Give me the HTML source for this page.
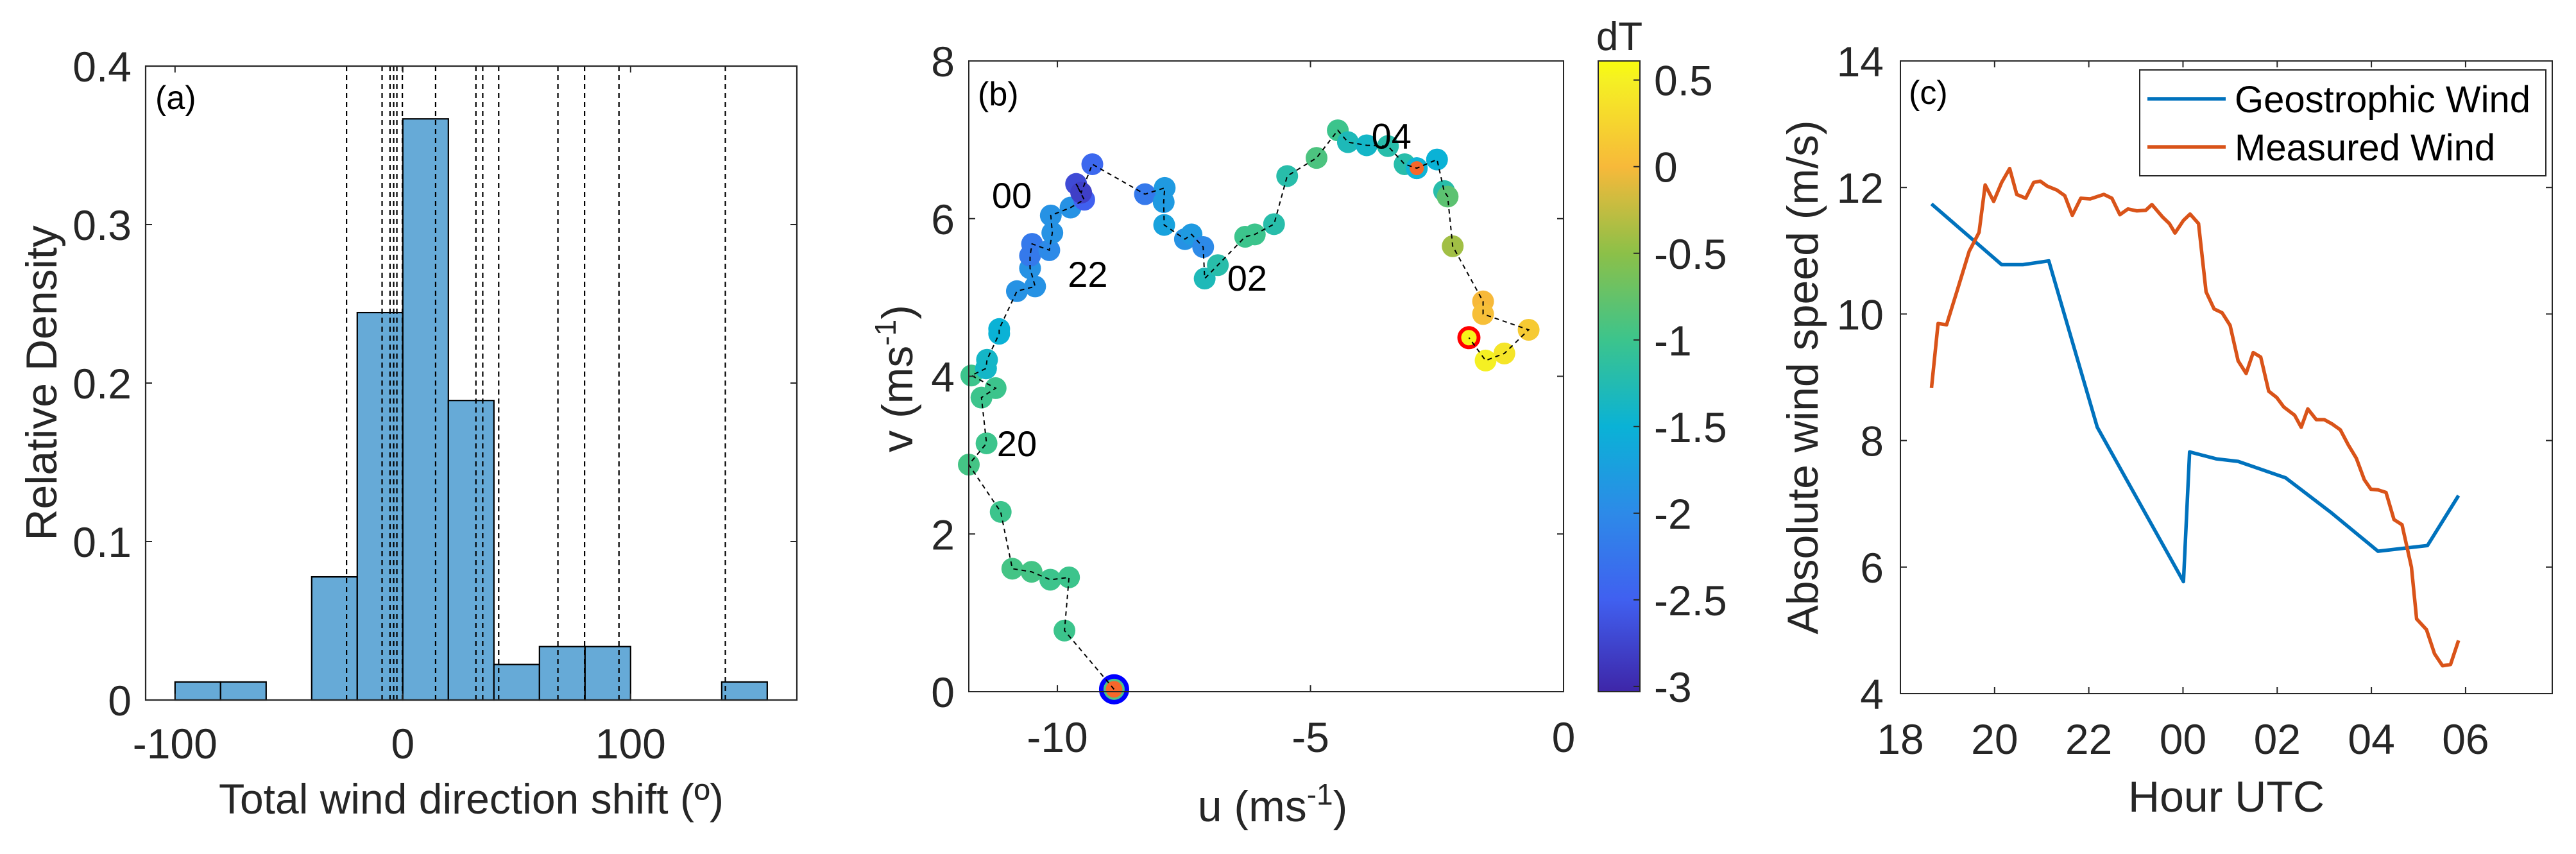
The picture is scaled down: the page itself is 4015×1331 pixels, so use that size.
<!DOCTYPE html>
<html><head><meta charset="utf-8">
<style>
html,body{margin:0;padding:0;background:#fff;}
svg{display:block;font-family:"Liberation Sans",Arial,sans-serif;}
</style></head>
<body>
<svg id="fig" width="4015" height="1331" viewBox="0 0 4015 1331" xmlns="http://www.w3.org/2000/svg">
<rect x="0" y="0" width="4015" height="1331" fill="#fff"/>
<g id="pa"></g>
<g id="pb"></g>
<g id="pc"></g>
</svg>
<script>
// ---------- Panel (a) data ----------
const histBinStart = [-100,-80,-40,-20,0,20,40,60,80,140];
const histDensity = [0.0114,0.0114,0.0777,0.2445,0.3667,0.189,0.0224,0.0337,0.0337,0.0114];
const histBinWidth = 20;
const shiftLines = [-24.7,-9.1,-5.6,-4.0,-2.6,-0.2,14.4,32.1,35.1,42.1,68.1,79.8,94.9,141.6];
const aXTicks = [-100,0,100];
const aYTicks = [0,0.1,0.2,0.3,0.4];
const aYTickLabels = ["0","0.1","0.2","0.3","0.4"];

// ---------- Panel (b) data ----------
const hodoU = [-8.88,-9.86,-9.77,-10.14,-10.51,-10.89,-11.12,-11.75,-11.40,-11.50,-11.22,-11.70,-11.41,-11.39,-11.15,-11.15,-10.80,-10.44,-10.54,-10.54,-10.50,-10.16,-10.10,-10.13,-9.74,-9.47,-9.63,-9.53,-9.31,-8.27,-7.88,-7.90,-7.89,-7.48,-7.35,-7.12,-7.09,-6.83,-6.29,-6.10,-5.72,-5.46,-4.88,-4.46,-4.26,-3.89,-3.47,-3.14,-2.90,-2.50,-2.36,-2.29,-2.19,-1.59,-1.59,-0.69,-1.17,-1.54,-1.87];
const hodoV = [0.03,0.775,1.45,1.42,1.52,1.56,2.28,2.88,3.15,3.73,3.85,4.01,4.10,4.21,4.54,4.60,5.08,5.14,5.37,5.53,5.68,5.60,5.82,6.04,6.14,6.24,6.44,6.33,6.69,6.31,6.39,6.21,5.92,5.74,5.80,5.64,5.24,5.41,5.77,5.80,5.93,6.54,6.77,7.12,6.97,6.93,6.92,6.69,6.64,6.75,6.35,6.28,5.65,4.95,4.79,4.59,4.29,4.20,4.49];
const hodoDT = [-1.0,-1.0,-1.0,-1.0,-0.95,-0.95,-1.0,-0.95,-1.0,-1.0,-1.0,-1.0,-1.4,-1.4,-1.5,-1.5,-1.9,-1.9,-1.9,-2.2,-2.2,-2.0,-1.9,-1.9,-1.9,-2.5,-2.7,-2.8,-2.4,-2.2,-1.8,-1.8,-1.7,-1.9,-1.8,-2.0,-1.3,-1.2,-1.0,-1.0,-1.2,-1.2,-0.9,-1.0,-1.3,-1.4,-1.2,-1.2,-1.5,-1.5,-1.2,-0.8,-0.4,0.0,0.05,0.15,0.4,0.5,0.55];
const hourLabels = ["20","22","00","02","04"];
const hourLabelU = [-10.8,-9.4,-10.9,-6.25,-3.4];
const hourLabelV = [3.15,5.3,6.3,5.25,7.05];
const bXTicks = [-10,-5,0];
const bYTicks = [0,2,4,6,8];
const cbTicks = [0.5,0,-0.5,-1,-1.5,-2,-2.5,-3];
const cbTickLabels = ["0.5","0","-0.5","-1","-1.5","-2","-2.5","-3"];

// ---------- Panel (c) data ----------
const geoT = [18.66,20.15,20.60,21.15,22.18,24.01,24.14,24.71,25.17,26.18,27.13,28.14,29.19,29.85];
const geoV = [11.74,10.78,10.78,10.84,8.21,5.77,7.82,7.71,7.67,7.41,6.87,6.25,6.34,7.13];
const measT = [18.66,18.80,18.98,19.23,19.46,19.67,19.80,19.98,20.15,20.32,20.47,20.66,20.83,20.97,21.12,21.32,21.49,21.65,21.83,22.03,22.32,22.49,22.66,22.83,23.02,23.21,23.34,23.57,23.71,23.83,24.01,24.15,24.33,24.49,24.66,24.83,25.00,25.17,25.34,25.49,25.65,25.82,25.99,26.14,26.37,26.51,26.65,26.83,27.00,27.17,27.34,27.51,27.68,27.85,27.99,28.14,28.31,28.48,28.65,28.85,28.96,29.17,29.34,29.51,29.68,29.85];
const measV = [8.83,9.85,9.83,10.43,10.99,11.29,12.04,11.78,12.08,12.30,11.89,11.83,12.08,12.10,12.02,11.96,11.87,11.56,11.83,11.82,11.89,11.83,11.57,11.66,11.63,11.64,11.73,11.53,11.43,11.28,11.48,11.58,11.43,10.35,10.08,10.02,9.82,9.26,9.06,9.39,9.32,8.78,8.68,8.53,8.40,8.21,8.50,8.33,8.33,8.26,8.17,7.93,7.72,7.38,7.23,7.22,7.18,6.75,6.67,6.00,5.18,5.01,4.63,4.44,4.46,4.84];
const cXTicks = [18,20,22,24,26,28,30];
const cXTickLabels = ["18","20","22","00","02","04","06"];
const cYTicks = [4,6,8,10,12,14];

// ---------- helpers ----------
const NS = "http://www.w3.org/2000/svg";
function mk(parent, tag, attrs){ const e=document.createElementNS(NS,tag); for(const k in attrs) e.setAttribute(k,attrs[k]); parent.appendChild(e); return e; }
function txt(parent, x, y, s, size, anchor, extra){ const t=mk(parent,'text',Object.assign({x:x,y:y,'font-size':size,'text-anchor':anchor||'middle',fill:'#262626'},extra||{})); t.textContent=s; return t; }
function lin(d0,d1,p0,p1){ return v=>p0+(v-d0)*(p1-p0)/(d1-d0); }
const AX='#262626';
const cmapPos=[0,0.146,0.283,0.42,0.558,0.695,0.832,0.97,1];
const cmapRGB=[[62,38,168],[64,96,240],[45,138,232],[10,178,214],[60,196,140],[140,192,72],[247,185,58],[245,240,35],[249,251,14]];
function parula(t){ t=Math.max(0,Math.min(1,t)); let i=0; while(i<cmapPos.length-2 && t>cmapPos[i+1]) i++; const f=(t-cmapPos[i])/(cmapPos[i+1]-cmapPos[i]); const a=cmapRGB[i],b=cmapRGB[i+1]; return 'rgb('+a.map((c,k)=>Math.round(c+(b[k]-c)*f)).join(',')+')'; }

// ---------- Panel (a) ----------
(function(){
const g=document.getElementById('pa');
const L=227,R=1242,T=103,B=1091;
const x=lin(-112.9,173,L,R), y=lin(0,0.4,B,T);
histBinStart.forEach((s,i)=>{
  const r=mk(g,'rect',{x:x(s),y:y(histDensity[i]),width:x(s+histBinWidth)-x(s),height:B-y(histDensity[i]),fill:'#66aad7',stroke:'#000','stroke-width':2.2});
  
  
});
shiftLines.forEach(v=>{
  const l=mk(g,'line',{x1:x(v),x2:x(v),y1:T,y2:B,stroke:'#000','stroke-width':2.2,'stroke-dasharray':'8,6'});
  
  
});
const fr=mk(g,'rect',{x:L,y:T,width:R-L,height:B-T,fill:'none',stroke:AX,'stroke-width':2.2});


aXTicks.forEach(v=>{
  mk(g,'line',{x1:x(v),x2:x(v),y1:B,y2:B-10,stroke:AX,'stroke-width':2});
  mk(g,'line',{x1:x(v),x2:x(v),y1:T,y2:T+10,stroke:AX,'stroke-width':2});
  const t=txt(g,x(v),1182,String(v),66,'middle');
  
  
});
aYTicks.forEach((v,i)=>{
  mk(g,'line',{x1:L,x2:L+10,y1:y(v),y2:y(v),stroke:AX,'stroke-width':2});
  mk(g,'line',{x1:R,x2:R-10,y1:y(v),y2:y(v),stroke:AX,'stroke-width':2});
  const t=txt(g,205,y(v)+24,aYTickLabels[i],66,'end');
  
  
});
const xl=txt(g,(L+R)/2,1268,'Total wind direction shift (º)',66,'middle');


const yl=txt(g,0,0,'Relative Density',68,'middle',{transform:'translate(88,597) rotate(-90)'});


const pl=txt(g,242,170,'(a)',52,'start',{fill:'#000'});


})();

// ---------- Panel (b) ----------
(function(){
const g=document.getElementById('pb');
const L=1510,R=2437,T=95,B=1078;
const x=lin(-11.75,0,L,R), y=lin(0,8,B,T);
const cmin=-3.03,cmax=0.61;
const cn=v=>(v-cmin)/(cmax-cmin);
hodoU.forEach((u,i)=>{
  if(i===0) return;
  const c=mk(g,'circle',{cx:x(u),cy:y(hodoV[i]),r:17,fill:parula(cn(hodoDT[i]))});
  
  
});
const s0=mk(g,'circle',{cx:x(hodoU[0]),cy:y(hodoV[0]),r:20,fill:'#4cc38a',stroke:'#0000ff','stroke-width':7});


mk(g,'circle',{cx:x(hodoU[0]),cy:y(hodoV[0]),r:13,fill:'#f7672b'});
const si=48;
mk(g,'circle',{cx:x(hodoU[si]),cy:y(hodoV[si]),r:17,fill:'#0fb4d6'});
const s1=mk(g,'circle',{cx:x(hodoU[si]),cy:y(hodoV[si]),r:11,fill:'#f7672b'});


const last=hodoU.length-1;
const s2=mk(g,'circle',{cx:x(hodoU[last]),cy:y(hodoV[last]),r:15,fill:parula(cn(hodoDT[last])),stroke:'#ff0000','stroke-width':6});


const pts=hodoU.map((u,i)=>x(u)+','+y(hodoV[i])).join(' ');
const pl=mk(g,'polyline',{points:pts,fill:'none',stroke:'#000','stroke-width':2,'stroke-dasharray':'7,6'});


hourLabels.forEach((s,i)=>{
  const t=txt(g,x(hourLabelU[i]),y(hourLabelV[i])+20,s,56,'middle',{fill:'#000'});
  
  
});
const fr=mk(g,'rect',{x:L,y:T,width:R-L,height:B-T,fill:'none',stroke:AX,'stroke-width':2});


bXTicks.forEach(v=>{
  mk(g,'line',{x1:x(v),x2:x(v),y1:B,y2:B-10,stroke:AX,'stroke-width':2});
  mk(g,'line',{x1:x(v),x2:x(v),y1:T,y2:T+10,stroke:AX,'stroke-width':2});
  const t=txt(g,x(v),1172,String(v),66,'middle');
  
  
});
bYTicks.forEach(v=>{
  mk(g,'line',{x1:L,x2:L+10,y1:y(v),y2:y(v),stroke:AX,'stroke-width':2});
  mk(g,'line',{x1:R,x2:R-10,y1:y(v),y2:y(v),stroke:AX,'stroke-width':2});
  const t=txt(g,1488,y(v)+24,String(v),66,'end');
  
  
});
const xl=mk(g,'text',{x:(L+R)/2+10,y:1280,'font-size':68,'text-anchor':'middle',fill:'#262626'});
xl.innerHTML='u (ms<tspan dy="-26" font-size="46">-1</tspan><tspan dy="26">)</tspan>';


const yl=mk(g,'text',{x:0,y:0,'font-size':68,'text-anchor':'middle',fill:'#262626',transform:'translate(1422,590) rotate(-90)'});
yl.innerHTML='v (ms<tspan dy="-26" font-size="46">-1</tspan><tspan dy="26">)</tspan>';


const pla=txt(g,1524,164,'(b)',52,'start',{fill:'#000'});


const CL=2491,CR=2556,CT=95,CB=1078;
const cy=lin(cmin,cmax,CB,CT);
const defs=mk(g,'defs',{});
const grad=mk(defs,'linearGradient',{id:'parula',x1:0,y1:1,x2:0,y2:0});
for(let k=0;k<cmapPos.length;k++){ mk(grad,'stop',{offset:cmapPos[k],'stop-color':'rgb('+cmapRGB[k].join(',')+')'}); }
const cb=mk(g,'rect',{x:CL,y:CT,width:CR-CL,height:CB-CT,fill:'url(#parula)',stroke:AX,'stroke-width':2});


cbTicks.forEach((v,i)=>{
  mk(g,'line',{x1:CR,x2:CR-10,y1:cy(v),y2:cy(v),stroke:AX,'stroke-width':2});
  const t=txt(g,2578,cy(v)+24,cbTickLabels[i],66,'start');
  
  
});
const ct=txt(g,2524,78,'dT',62,'middle');


})();

// ---------- Panel (c) ----------
(function(){
const g=document.getElementById('pc');
const L=2962,R=3978,T=95,B=1081;
const x=lin(18,31.84,L,R), y=lin(4,14,B,T);
const gp=mk(g,'polyline',{points:geoT.map((t,i)=>x(t)+','+y(geoV[i])).join(' '),fill:'none',stroke:'#0072bd','stroke-width':5.5,'stroke-linejoin':'round'});


const mp=mk(g,'polyline',{points:measT.map((t,i)=>x(t)+','+y(measV[i])).join(' '),fill:'none',stroke:'#d95319','stroke-width':5.5,'stroke-linejoin':'round'});


const fr=mk(g,'rect',{x:L,y:T,width:R-L,height:B-T,fill:'none',stroke:AX,'stroke-width':2});


cXTicks.forEach((v,i)=>{
  mk(g,'line',{x1:x(v),x2:x(v),y1:B,y2:B-10,stroke:AX,'stroke-width':2});
  mk(g,'line',{x1:x(v),x2:x(v),y1:T,y2:T+10,stroke:AX,'stroke-width':2});
  const t=txt(g,x(v),1175,cXTickLabels[i],66,'middle');
  
  
});
cYTicks.forEach(v=>{
  mk(g,'line',{x1:L,x2:L+10,y1:y(v),y2:y(v),stroke:AX,'stroke-width':2});
  mk(g,'line',{x1:R,x2:R-10,y1:y(v),y2:y(v),stroke:AX,'stroke-width':2});
  const t=txt(g,2936,y(v)+24,String(v),66,'end');
  
  
});
const xl=txt(g,(L+R)/2,1265,'Hour UTC',68,'middle');


const yl=txt(g,0,0,'Absolute wind speed (m/s)',68,'middle',{transform:'translate(2833,588) rotate(-90)'});


const pla=txt(g,2975,162,'(c)',52,'start',{fill:'#000'});


const lg=mk(g,'g',{});


mk(lg,'rect',{x:3335,y:109,width:633,height:165,fill:'#fff',stroke:AX,'stroke-width':2});
const e1=mk(lg,'line',{x1:3347,x2:3469,y1:154,y2:154,stroke:'#0072bd','stroke-width':5.5});


txt(lg,3483,175,'Geostrophic Wind',58,'start',{fill:'#000'});
const e2=mk(lg,'line',{x1:3347,x2:3469,y1:229,y2:229,stroke:'#d95319','stroke-width':5.5});


txt(lg,3483,250,'Measured Wind',58,'start',{fill:'#000'});
})();
</script>
</body></html>
